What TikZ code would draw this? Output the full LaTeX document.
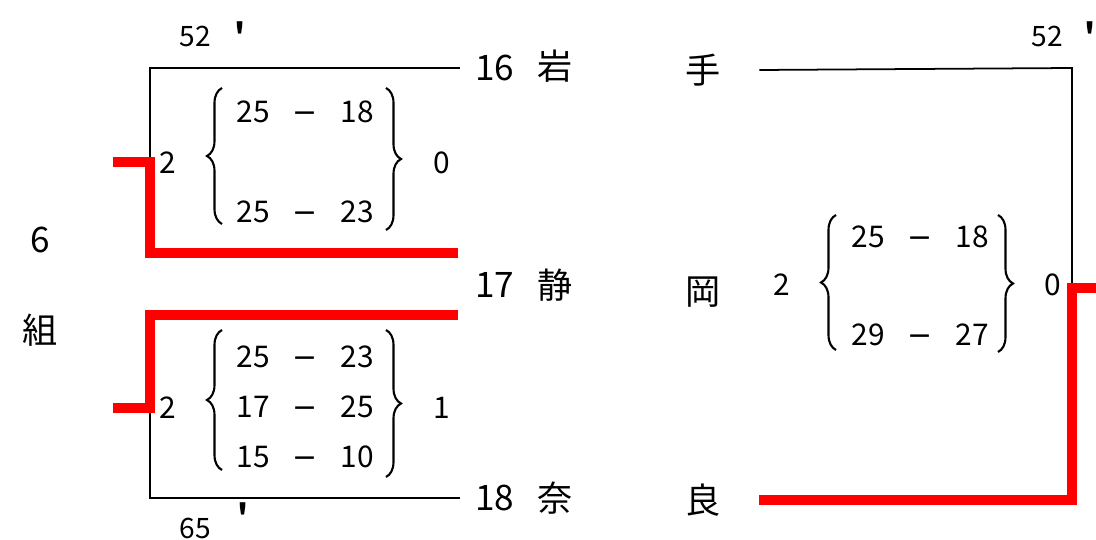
\documentclass[tikz,border=0pt]{standalone}
\usepackage{fontspec}
\setmainfont{Noto Sans CJK JP}
\newfontfamily\dvfont{DejaVu Sans}
\usepackage{tikz}
\usetikzlibrary{positioning,calc,decorations.pathreplacing}

\begin{document}
\begin{tikzpicture}[
  x=0.02cm, y=-0.02cm,
  team/.style={font=\fontsize{20}{24}\selectfont, inner sep=2pt},
  num/.style={font=\fontsize{20}{24}\selectfont, inner xsep=0.3cm, inner ysep=2pt, anchor=west},
  sc/.style={font=\fontsize{17}{20}\selectfont, inner sep=1pt, text height=0.44cm, text depth=0pt},
  small/.style={font=\fontsize{16}{18}\selectfont, inner sep=1pt},
  tick/.style={font=\fontsize{18}{20}\selectfont\bfseries, inner sep=1pt},
  line/.style={line width=1pt},
  win/.style={draw=red, line width=6pt},
  brc/.style={decorate, decoration={brace, amplitude=0.3cm}, line width=1.2pt}
]
\useasboundingbox (0,0) rectangle (1096,540);

\node[team] (six) at (40,240) {6};
\node[team] (kumi) at (40,330) {組};

\node[small] (t1) at (195,36) {52};
\node[tick] (t1p) at (240,34) {\textquotesingle};
\node[small] (t2) at (1047,36) {52};
\node[tick] (t2p) at (1090,34) {\textquotesingle};
\node[small] (t3) at (195,528) {65};
\node[tick] (t3p) at (243,515) {\textquotesingle};

\node[num] (n16) at (460,68) {16};
\node[team] (iwa) at (555,66) {岩};
\node[team] (te)  at (703,70) {手};
\node[num] (n17) at (460,285) {17};
\node[team] (shi) at (555,285) {静};
\node[team] (oka) at (703,292) {岡};
\node[num] (n18) at (460,498) {18};
\node[team] (na)  at (555,498) {奈};
\node[team] (ra)  at (703,500) {良};

\coordinate (k1) at (150,68);
\coordinate (k2) at (150,162);
\coordinate (k3) at (150,408);
\coordinate (k4) at (150,498);
\coordinate (u1) at (458,253);
\coordinate (u2) at (150,253);
\coordinate (u3) at (113,162);
\coordinate (v1) at (458,315);
\coordinate (v2) at (150,315);
\coordinate (v3) at (113,408);
\coordinate (r1) at (1072,68);
\coordinate (r2) at (1072,288);
\coordinate (r3) at (1096,288);
\coordinate (r4) at (1072,500);

\draw[line] (n16.west) -- (k1) -- (k2);
\draw[line] (n18.west) -- (k4) -- (k3);
\draw[line] ([xshift=0.7cm]te.east) -- (r1) -- (r2);

\draw[win] (u1) -- (u2) -- (k2) -- (u3);
\draw[win] (v1) -- (v2) -- (k3) -- (v3);
\draw[win] (r3) -- (r2) -- (r4) -- ([xshift=0.7cm]ra.east);

\foreach \x/\y/\a/\b [count=\i] in {305/112/25/18, 305/212/25/23, 305/357/25/23,
    305/407/17/25, 305/457/15/10, 920/237/25/18, 920/335/29/27} {
  \node[sc] (a\i) at (\x-52,\y) {\a};
  \node[sc] (m\i) at (\x,\y) {\dvfont −};
  \node[sc] (b\i) at (\x+52,\y) {\b};
}

\node[sc] (w1) at (168,163) {2};
\node[sc] (l1) at (442,163) {0};
\node[sc] (w2) at (168,408) {2};
\node[sc] (l2) at (442,408) {1};
\node[sc] (w3) at (782,285) {2};
\node[sc] (l3) at (1053,285) {0};

\draw[brc] (222,224) -- (222,88);
\draw[brc] (386,88) -- (386,230);
\draw[brc] (222,470) -- (222,330);
\draw[brc] (386,330) -- (386,477);
\draw[brc] (836,350) -- (836,215);
\draw[brc] (998,215) -- (998,352);

\end{tikzpicture}
\end{document}
